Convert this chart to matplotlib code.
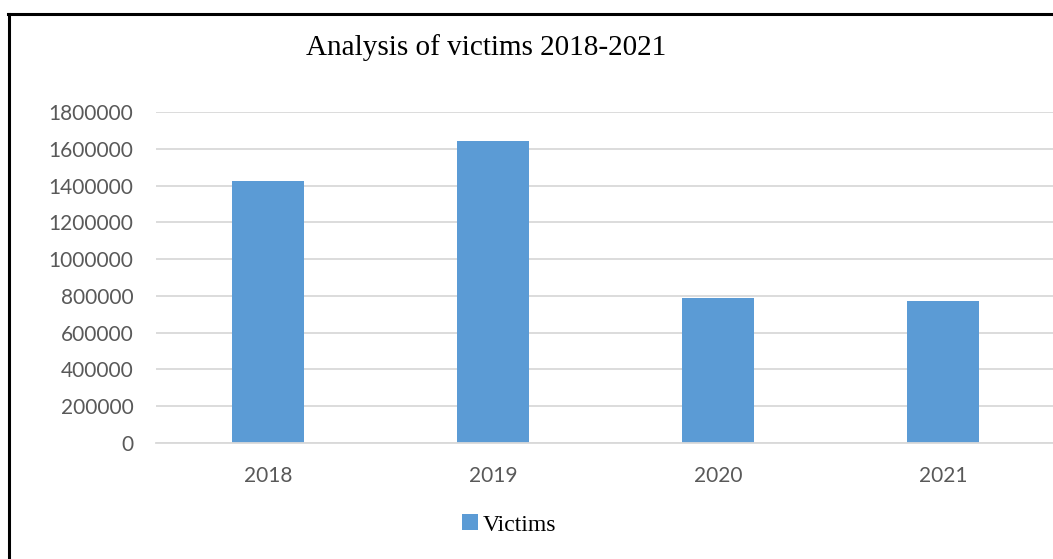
import matplotlib
matplotlib.use("Agg")
import matplotlib.pyplot as plt
from matplotlib.lines import Line2D
from matplotlib.patches import Patch

years = ["2018", "2019", "2020", "2021"]
victims = [1426000, 1645000, 787000, 770000]
yticks = [0, 200000, 400000, 600000, 800000, 1000000, 1200000, 1400000, 1600000, 1800000]

W, H = 1053, 559
fig = plt.figure(figsize=(W / 100, H / 100), dpi=100)
fig.patch.set_facecolor("white")

ax = fig.add_axes([155.5 / W, 1 - 442.7 / H, (1056 - 155.5) / W, (442.7 - 112.3) / H])
x = range(len(years))
ax.bar(x, victims, width=0.32, color="#5B9BD5", zorder=3, label="Victims")
ax.set_xlim(-0.5, len(years) - 0.5)
ax.set_ylim(0, 1800000)
ax.set_yticks(yticks)
ax.set_yticklabels([str(v) for v in yticks])
ax.set_xticks(list(x))
ax.set_xticklabels(years)
ax.grid(axis="y", color="#D9D9D9", linewidth=1.3, zorder=0)
for s in ["top", "right", "left"]:
    ax.spines[s].set_visible(False)
ax.spines["bottom"].set_color("#D9D9D9")
ax.spines["bottom"].set_linewidth(1.3)
ax.spines["bottom"].set_zorder(4)
ax.tick_params(axis="both", length=0, labelcolor="#595959", labelsize=15)
ax.tick_params(axis="y", pad=16)
ax.tick_params(axis="x", pad=17)
for lab in ax.get_xticklabels() + ax.get_yticklabels():
    lab.set_fontfamily("Lato")

fig.text(486 / W, 1 - 48 / H, "Analysis of victims 2018-2021", ha="center", va="center",
         fontsize=21, family="Liberation Serif", color="black")

leg = fig.legend(handles=[Patch(facecolor="#5B9BD5", edgecolor="none", label="Victims")],
                 loc="center", bbox_to_anchor=(509 / W, 1 - 525 / H), frameon=False,
                 prop={"family": "Liberation Serif", "size": 17}, handlelength=0.65,
                 handleheight=0.65, handletextpad=0.2)

# border frame (top and left visible)
fig.add_artist(Line2D([8 / W, 1], [1 - 13.5 / H, 1 - 13.5 / H], transform=fig.transFigure,
                      color="black", linewidth=2.2))
fig.add_artist(Line2D([8.5 / W, 8.5 / W], [0, 1 - 13.5 / H], transform=fig.transFigure,
                      color="black", linewidth=2.2))

fig.savefig("out.png", dpi=100, facecolor="white")
